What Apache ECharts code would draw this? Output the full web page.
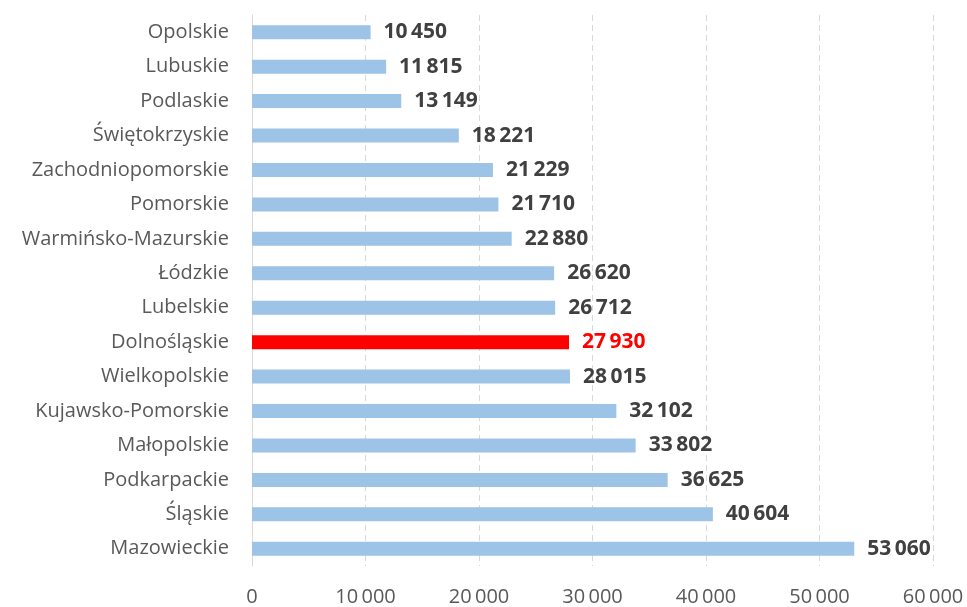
<!DOCTYPE html>
<html><head><meta charset="utf-8">
<script src="https://cdn.jsdelivr.net/npm/echarts@6/dist/echarts.min.js"></script>
<style>html,body{margin:0;padding:0;background:#fff}#c{width:967px;height:607px}</style>
</head><body><div id="c"></div>
<script>
const categories = ['Mazowieckie','Śląskie','Podkarpackie','Małopolskie','Kujawsko-Pomorskie','Wielkopolskie','Dolnośląskie','Lubelskie','Łódzkie','Warmińsko-Mazurskie','Pomorskie','Zachodniopomorskie','Świętokrzyskie','Podlaskie','Lubuskie','Opolskie'];
const values = [53060,40604,36625,33802,32102,28015,27930,26712,26620,22880,21710,21229,18221,13149,11815,10450];
const highlight = 'Dolnośląskie';
const xTicks = {min:0, max:60000, interval:10000};

function fmt(v){ return String(v).replace(/\B(?=(\d{3})+(?!\d))/g, '\u2009'); }
const FONT = '"Open Sans", sans-serif';
const chart = echarts.init(document.getElementById('c'), null, {renderer:'canvas'});
chart.setOption({
  animation:false,
  grid:{left:252,right:34,top:15,bottom:38,containLabel:false},
  xAxis:{type:'value',min:xTicks.min,max:xTicks.max,interval:xTicks.interval,
    axisLine:{show:false},axisTick:{show:false},
    splitLine:{show:true,lineStyle:{color:'#d9d9d9',type:[6,4],width:1}},
    axisLabel:{formatter:fmt,color:'#595959',fontSize:20,fontFamily:FONT,margin:21}},
  yAxis:{type:'category',data:categories,
    axisLine:{show:true,lineStyle:{color:'#d9d9d9',width:1}},axisTick:{show:false},
    axisLabel:{color:'#595959',fontSize:20,fontFamily:FONT,margin:23}},
  series:[{type:'bar',barWidth:14,
    data:values.map((v,i)=>({value:v,
      itemStyle:{color:categories[i]===highlight?'#ff0000':'#9dc3e6'},
      label:{color:categories[i]===highlight?'#ff0000':'#404040'}})),
    label:{show:true,position:'right',distance:13,fontWeight:'bold',fontSize:21,fontFamily:FONT,formatter:p=>fmt(p.value)}}]
});
</script></body></html>
